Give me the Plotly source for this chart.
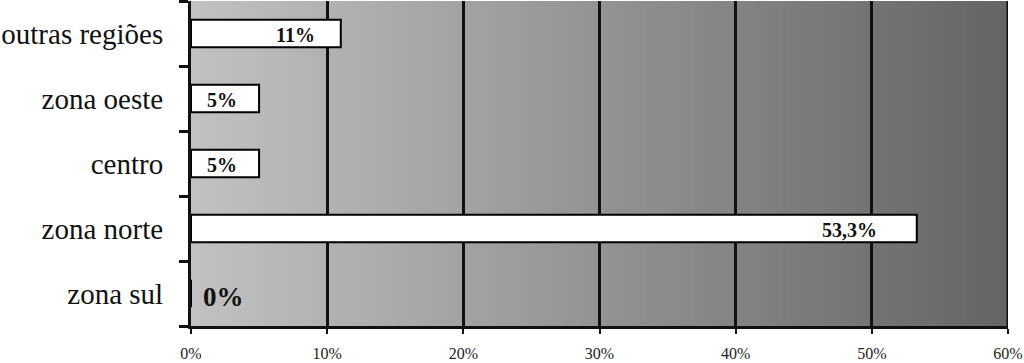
import plotly.graph_objects as go

categories = ["zona sul", "zona norte", "centro", "zona oeste", "outras regiões"]
values = [0, 53.3, 5, 5, 11]
value_labels = ["0%", "53,3%", "5%", "5%", "11%"]
x_ticks = [0, 10, 20, 30, 40, 50, 60]
x_tick_labels = ["0%", "10%", "20%", "30%", "40%", "50%", "60%"]

SERIF = "Liberation Serif"

fig = go.Figure()
fig.add_trace(go.Bar(
    y=categories, x=values, orientation="h",
    marker=dict(color="white", line=dict(color="black", width=2)),
    hoverinfo="skip",
))

# gradient background strips (overlapping to avoid seams)
n = 120
shapes = []
for i in range(n):
    t = i / (n - 1)
    g = int(round(193 - t * (193 - 101)))
    x0 = 60 * i / n
    x1 = min(60, 60 * (i + 2) / n)
    shapes.append(dict(type="rect", xref="x", yref="paper",
                       x0=x0, x1=x1, y0=0, y1=1,
                       fillcolor=f"rgb({g},{g},{g})", line=dict(width=0),
                       layer="below"))
shapes.append(dict(type="line", xref="x", yref="paper", x0=60, x1=60, y0=0, y1=1,
                   line=dict(color="#111", width=3), layer="above"))

annotations = []
shifts = [10, -38, -20, -20, -24]
for c, v, lab, s in zip(categories, values, value_labels, shifts):
    if v == 0:
        annotations.append(dict(x=v, y=c, text=f"<b>{lab}</b>", showarrow=False,
                                xanchor="left", xshift=s, yshift=-3,
                                font=dict(family=SERIF, size=27, color="#111")))
    else:
        annotations.append(dict(x=v, y=c, text=f"<b>{lab}</b>", showarrow=False,
                                xanchor="right", xshift=s, yshift=-1,
                                font=dict(family=SERIF, size=20, color="#111")))

fig.update_layout(
    width=1024, height=363,
    margin=dict(l=191, r=16, t=1, b=37),
    paper_bgcolor="white", plot_bgcolor="white",
    showlegend=False, bargap=0.58,
    shapes=shapes, annotations=annotations,
    xaxis=dict(range=[0, 60], tickvals=x_ticks, ticktext=x_tick_labels,
               automargin=False,
               showgrid=True, gridcolor="#111", gridwidth=3,
               showline=True, linecolor="#111", linewidth=3,
               ticks="outside", ticklen=5, tickwidth=2, tickcolor="#111",
               ticklabelstandoff=6, zeroline=False,
               tickfont=dict(family=SERIF, size=16, color="#222")),
    yaxis=dict(type="category", showgrid=False, automargin=False,
               showline=True, linecolor="#111", linewidth=3,
               ticks="outside", ticklen=9, tickwidth=2.5, tickcolor="#111",
               tickson="boundaries", ticklabelstandoff=19,
               tickfont=dict(family=SERIF, size=29, color="#111")),
)

fig.write_html("out.html")
